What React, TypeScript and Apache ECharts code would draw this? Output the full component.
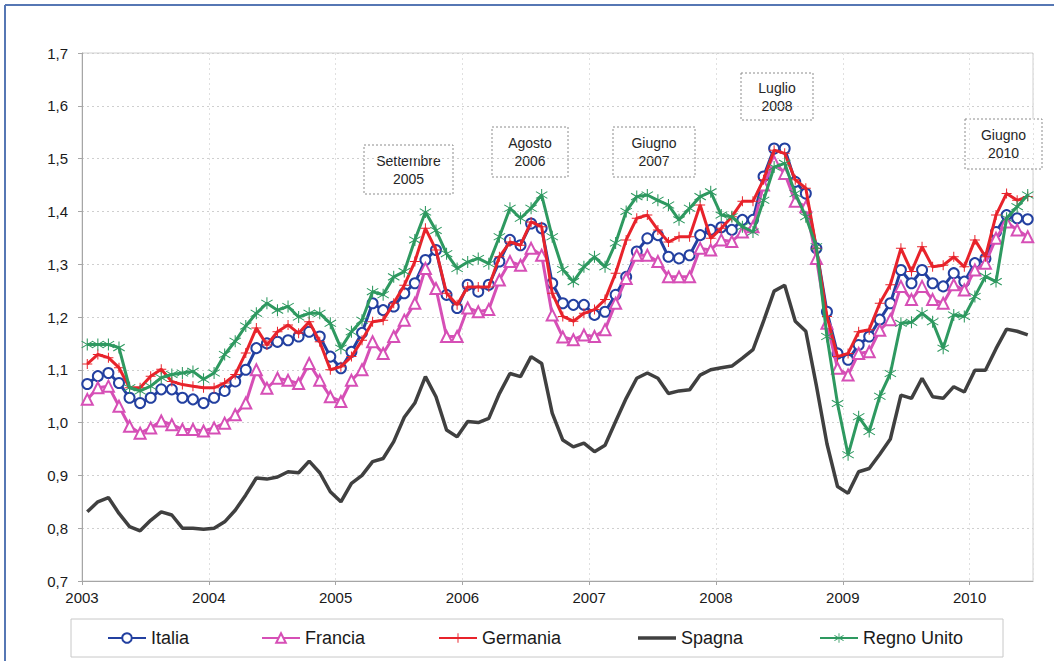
import React, { useEffect, useRef } from "react";
import * as echarts from "echarts";

// Monthly data, Jan 2003 .. Jun 2010 (90 months)
const startYear = 2003;
const seriesNames = ["Italia", "Francia", "Germania", "Spagna", "Regno Unito"];

const italia = [
  1.073, 1.088, 1.094, 1.075, 1.047, 1.037, 1.047, 1.063, 1.063, 1.047, 1.044, 1.037,
  1.047, 1.06, 1.078, 1.1, 1.141, 1.15, 1.153, 1.156, 1.163, 1.172, 1.163, 1.125,
  1.103, 1.134, 1.17, 1.226, 1.213, 1.22, 1.245, 1.264, 1.308, 1.327, 1.242, 1.217,
  1.261, 1.248, 1.261, 1.305, 1.346, 1.336, 1.377, 1.368, 1.264, 1.226, 1.223, 1.223,
  1.204, 1.21, 1.242, 1.276, 1.324, 1.349, 1.355, 1.314, 1.311, 1.317, 1.355, 1.365,
  1.37, 1.365, 1.384, 1.384, 1.466, 1.519, 1.519, 1.456, 1.434, 1.33, 1.21, 1.131,
  1.119, 1.147, 1.163, 1.195, 1.226, 1.289, 1.264, 1.289, 1.264, 1.258, 1.283, 1.267,
  1.302, 1.311, 1.361, 1.393, 1.387, 1.385,
];

const francia = [
  1.044, 1.066, 1.069, 1.031, 0.993, 0.98, 0.99, 1.003, 0.996, 0.987, 0.987, 0.984,
  0.99, 0.999, 1.015, 1.037, 1.1, 1.065, 1.084, 1.08, 1.074, 1.112, 1.08, 1.049,
  1.04, 1.08, 1.1, 1.153, 1.131, 1.163, 1.194, 1.226, 1.292, 1.254, 1.163, 1.163,
  1.217, 1.21, 1.214, 1.27, 1.305, 1.298, 1.33, 1.317, 1.204, 1.162, 1.157, 1.166,
  1.163, 1.176, 1.226, 1.273, 1.317, 1.317, 1.305, 1.276, 1.276, 1.276, 1.33, 1.327,
  1.346, 1.343, 1.361, 1.371, 1.45, 1.494, 1.472, 1.419, 1.409, 1.311, 1.188, 1.103,
  1.09, 1.131, 1.134, 1.175, 1.195, 1.258, 1.233, 1.258, 1.233, 1.226, 1.261, 1.251,
  1.289, 1.302, 1.349, 1.38, 1.365, 1.352,
];

const germania = [
  1.111, 1.129, 1.123, 1.104, 1.066, 1.066, 1.088, 1.101, 1.078, 1.072, 1.069, 1.066,
  1.066, 1.075, 1.091, 1.132, 1.179, 1.147, 1.172, 1.185, 1.169, 1.191, 1.153, 1.1,
  1.106, 1.125, 1.156, 1.191, 1.194, 1.226, 1.26, 1.305, 1.368, 1.327, 1.245, 1.223,
  1.257, 1.257, 1.257, 1.314, 1.342, 1.336, 1.38, 1.371, 1.245, 1.201, 1.192, 1.207,
  1.214, 1.233, 1.283, 1.346, 1.387, 1.393, 1.365, 1.342, 1.352, 1.352, 1.412, 1.349,
  1.368, 1.39, 1.419, 1.419, 1.46, 1.516, 1.51, 1.46, 1.444, 1.33, 1.201, 1.125,
  1.131, 1.172, 1.176, 1.226, 1.261, 1.33, 1.286, 1.333, 1.295, 1.298, 1.314, 1.295,
  1.346, 1.314, 1.393, 1.434, 1.421, 1.428,
];

const spagna = [
  0.831, 0.85, 0.858, 0.828, 0.803, 0.795, 0.815, 0.831, 0.825, 0.8, 0.8, 0.798,
  0.8, 0.812, 0.834, 0.863, 0.895, 0.893, 0.897, 0.907, 0.905, 0.927, 0.905, 0.869,
  0.85, 0.885, 0.9, 0.926, 0.932, 0.964, 1.01, 1.037, 1.087, 1.049, 0.986, 0.973,
  1.002, 1.0, 1.008, 1.055, 1.093, 1.087, 1.125, 1.112, 1.018, 0.967, 0.954, 0.961,
  0.945, 0.957, 1.002, 1.046, 1.084, 1.094, 1.084, 1.055, 1.06, 1.062, 1.09, 1.1,
  1.104, 1.107, 1.122, 1.138, 1.192, 1.249, 1.26, 1.192, 1.173, 1.07, 0.96, 0.879,
  0.866, 0.907, 0.913, 0.94, 0.969, 1.052, 1.046, 1.084, 1.049, 1.046, 1.068, 1.058,
  1.099, 1.099, 1.14, 1.177, 1.173, 1.166,
];

const regnoUnito = [
  1.148, 1.148, 1.148, 1.142, 1.066, 1.06, 1.069, 1.085, 1.091, 1.094, 1.097, 1.082,
  1.094, 1.129, 1.154, 1.183, 1.207, 1.226, 1.213, 1.22, 1.2, 1.207, 1.207, 1.188,
  1.141, 1.172, 1.194, 1.248, 1.242, 1.276, 1.286, 1.346, 1.399, 1.364, 1.32, 1.292,
  1.304, 1.311, 1.301, 1.352, 1.406, 1.387, 1.406, 1.431, 1.352, 1.29, 1.267, 1.295,
  1.314, 1.295, 1.34, 1.4, 1.428, 1.431, 1.421, 1.412, 1.384, 1.406, 1.428, 1.437,
  1.393, 1.39, 1.371, 1.361, 1.421, 1.484, 1.491, 1.434, 1.39, 1.333, 1.163, 1.036,
  0.939, 1.011, 0.983, 1.05, 1.093, 1.188, 1.19, 1.207, 1.191, 1.141, 1.204, 1.201,
  1.239, 1.277, 1.267, 1.387, 1.409, 1.431,
];

const annotationLabels = ["Settembre\n2005", "Agosto\n2006", "Giugno\n2007", "Luglio\n2008", "Giugno\n2010"];

const colors = ["#2340A0", "#D64FB6", "#E8232B", "#404040", "#2E9960"];

const crossPath = "path://M4.5,0L5.5,0L5.5,4.5L10,4.5L10,5.5L5.5,5.5L5.5,10L4.5,10L4.5,5.5L0,5.5L0,4.5L4.5,4.5Z";
const starPath =
  "path://M4.6,0L5.4,0L5.4,10L4.6,10Z" +
  "M0.918,1.865L9.518,7.465L9.082,8.135L0.482,2.535Z" +
  "M0.482,7.465L9.082,1.865L9.518,2.535L0.918,8.135Z";
const plainLineIcon = "path://M0,0L38,0L38,3.5L0,3.5Z";

const FONT = "'Liberation Sans', Arial, Helvetica, sans-serif";

const toPoints = (arr: number[]) => arr.map((v, i) => [i + 0.5, v]);

export default function App() {
  const ref = useRef<HTMLDivElement>(null);

  useEffect(() => {
    document.body.style.margin = "0";
    if (!ref.current) return;
    const chart = echarts.init(ref.current, null, { renderer: "svg" });

    const boxLayout = [
      { x: 364, y: 145, w: 89, h: 49 },
      { x: 492, y: 127, w: 76, h: 50 },
      { x: 613, y: 127, w: 82, h: 50 },
      { x: 741, y: 73, w: 72, h: 47 },
      { x: 965, y: 119, w: 77, h: 50 },
    ];

    const annotationGraphics = boxLayout.map((b, k) => ({
      type: "group",
      z: 20,
      children: [
        {
          type: "rect",
          shape: { x: b.x, y: b.y, width: b.w, height: b.h },
          style: { fill: "#ffffff", stroke: "#8C8C8C", lineWidth: 1, lineDash: [2, 2] },
        },
        {
          type: "text",
          x: b.x + b.w / 2,
          y: b.y + b.h / 2,
          style: {
            text: annotationLabels[k],
            align: "center",
            verticalAlign: "middle",
            fontSize: 14,
            fontFamily: FONT,
            lineHeight: 18,
            fill: "#262626",
          },
        },
      ],
    }));

    const legendLefts = [107, 261, 438, 638, 819];

    const symbols = ["emptyCircle", "emptyTriangle", crossPath, "none", starPath];
    const symbolSizes = [10, 11, 10, 0, 12];
    const datasets = [italia, francia, germania, spagna, regnoUnito];

    const series = seriesNames.map((name, k) => ({
      name,
      type: "line",
      data: toPoints(datasets[k]),
      symbol: symbols[k],
      symbolSize: symbolSizes[k],
      showSymbol: k !== 3,
      showAllSymbol: true,
      lineStyle: { width: k === 3 ? 3.5 : 3, color: colors[k] },
      itemStyle: { color: colors[k], borderColor: colors[k], borderWidth: k < 2 ? 1.5 : 0 },
      emphasis: { disabled: true },
      z: 2 + k,
    }));

    chart.setOption({
      animation: false,
      backgroundColor: "#ffffff",
      grid: {
        left: 82,
        right: 21,
        top: 53,
        bottom: 80,
        show: true,
        borderColor: "#D0D0D0",
        borderWidth: 1,
        backgroundColor: "transparent",
      },
      xAxis: {
        type: "value",
        min: 0,
        max: 90,
        interval: 12,
        axisLine: { show: true, lineStyle: { color: "#A6A6A6", width: 1 } },
        axisTick: { show: true, length: 4, lineStyle: { color: "#A6A6A6" } },
        axisLabel: {
          color: "#1a1a1a",
          fontSize: 15,
          fontFamily: FONT,
          margin: 9,
          showMaxLabel: false,
          formatter: (v: number) => (v % 12 === 0 ? String(startYear + v / 12) : ""),
        },
        splitLine: { show: true, lineStyle: { color: "#E0E0E0", type: [2, 3], width: 1 } },
      },
      yAxis: {
        type: "value",
        min: 0.7,
        max: 1.7,
        interval: 0.1,
        axisLine: { show: true, lineStyle: { color: "#A6A6A6", width: 1 } },
        axisTick: { show: true, length: 4, lineStyle: { color: "#A6A6A6" } },
        axisLabel: {
          color: "#1a1a1a",
          fontSize: 15,
          fontFamily: FONT,
          margin: 14,
          formatter: (v: number) => v.toFixed(1).replace(".", ","),
        },
        splitLine: { show: true, lineStyle: { color: "#CFCFCF", type: [2, 3], width: 1 } },
      },
      legend: seriesNames.map((name, k) => ({
        data: k === 3 ? [{ name, icon: plainLineIcon }] : [name],
        left: legendLefts[k],
        top: 629,
        padding: 0,
        itemWidth: 38,
        itemHeight: k === 3 ? 4 : 12,
        itemGap: 0,
        selectedMode: false,
        textStyle: { fontSize: 18, color: "#1a1a1a", fontFamily: FONT, padding: k === 3 ? [0, 0, 0, 0] : 0 },
        z: 10,
      })),
      graphic: [
        {
          type: "rect",
          z: 1,
          shape: { x: 71, y: 619, width: 932, height: 38 },
          style: { fill: "#ffffff", stroke: "#C8C8C8", lineWidth: 1 },
        },
        {
          type: "line",
          z: 30,
          shape: { x1: 5, y1: 5, x2: 1054, y2: 5 },
          style: { stroke: "#5677B4", lineWidth: 2 },
        },
        {
          type: "line",
          z: 30,
          shape: { x1: 5, y1: 5, x2: 5, y2: 661 },
          style: { stroke: "#5677B4", lineWidth: 2 },
        },
        ...annotationGraphics,
      ],
      series,
    });

    return () => chart.dispose();
  }, []);

  return <div ref={ref} style={{ width: 1054, height: 661 }} />;
}
